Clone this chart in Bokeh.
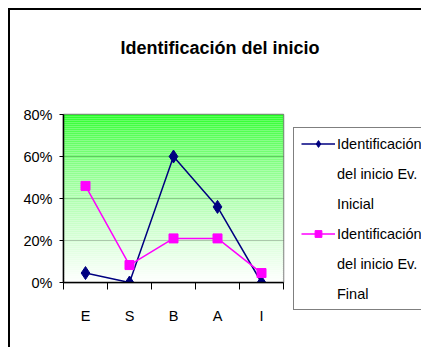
from bokeh.plotting import figure
from bokeh.models import Range1d, FixedTicker, Legend, LegendItem, BoxAnnotation, Title
from bokeh.embed import file_html
from bokeh.resources import INLINE

# ---- data ----
categories = ["E", "S", "B", "A", "I"]
inicial = [0.045, 0.0, 0.60, 0.36, 0.0]
final = [0.46, 0.083, 0.21, 0.21, 0.045]
y_ticks = [0.0, 0.2, 0.4, 0.6, 0.8]
y_tick_labels = ["0%", "20%", "40%", "60%", "80%"]
legend_lines_inicial = ["Identificación", "del inicio Ev.", "Inicial"]
legend_lines_final = ["Identificación", "del inicio Ev.", "Final"]
title_text = "Identificación del inicio"

FONT = "Liberation Sans"
x_pos = [i + 0.5 for i in range(len(categories))]
boundaries = list(range(len(categories) + 1))

p = figure(frame_width=220, frame_height=168,
           min_border_left=53, min_border_right=138,
           min_border_top=104, min_border_bottom=65,
           x_range=Range1d(0, len(categories)), y_range=Range1d(y_ticks[0], y_ticks[-1]),
           output_backend="svg", toolbar_location=None)
p.styles = {"border-left": "2px solid black", "border-top": "2px solid black",
            "margin-left": "8px", "margin-top": "8px"}
p.background_fill_color = "white"
p.border_fill_color = "white"
p.outline_line_color = "#808080"
p.outline_line_width = 1.5

# title (spacer keeps it high above the frame)
p.title = None
spacer = Title(text=" ", text_font_size="1px", standoff=29)
p.add_layout(spacer, "above")
main_title = Title(text=title_text, text_font=FONT, text_font_size="18px",
                   text_font_style="bold", text_color="black",
                   align="left", offset=57, standoff=49)
p.add_layout(main_title, "above")

# gradient background (decoration)
n_bands = 84
y0, y1 = y_ticks[0], y_ticks[-1]
for k in range(n_bands):
    b = y0 + (y1 - y0) * k / n_bands
    t_ = y0 + (y1 - y0) * (k + 1) / n_bands
    frac_from_top = 1 - (k + 0.5) / n_bands
    v = frac_from_top ** 0.62
    r = int(26 + (255 - 26) * v)
    col = "#%02x%02x%02x" % (r, 255, r)
    p.add_layout(BoxAnnotation(bottom=b, top=t_, fill_color=col, fill_alpha=1,
                               line_color=None, level="underlay"))

# axes
p.xaxis.ticker = FixedTicker(ticks=x_pos, minor_ticks=boundaries)
p.xaxis.major_label_overrides = {x: c for x, c in zip(x_pos, categories)}
p.xaxis.major_tick_line_color = None
p.xaxis.major_tick_out = 0
p.xaxis.major_tick_in = 0
p.xaxis.minor_tick_line_color = "black"
p.xaxis.minor_tick_out = 7
p.xaxis.minor_tick_in = 0
p.xaxis.major_label_standoff = 18
p.xaxis.axis_line_color = "black"
p.xaxis.axis_line_width = 1.5

p.yaxis.ticker = FixedTicker(ticks=y_ticks)
p.yaxis.major_label_overrides = {v: s for v, s in zip(y_ticks, y_tick_labels)}
p.yaxis.major_tick_out = 4
p.yaxis.major_tick_in = 0
p.yaxis.minor_tick_line_color = None
p.yaxis.major_label_standoff = 7
p.yaxis.axis_line_color = "black"
p.yaxis.axis_line_width = 1.5

for ax in (p.xaxis, p.yaxis):
    ax.major_label_text_font = FONT
    ax.major_label_text_font_size = "14.5px"
    ax.major_label_text_color = "black"

p.xgrid.grid_line_color = None
p.ygrid.ticker = FixedTicker(ticks=y_ticks[1:-1])
p.ygrid.grid_line_color = "#222222"
p.ygrid.grid_line_width = 1

# series
l1 = p.line(x_pos, inicial, line_color="#000080", line_width=1.5)
m1 = p.scatter(x_pos, inicial, marker="diamond", size=13, color="#000080")
l2 = p.line(x_pos, final, line_color="#ff00ff", line_width=1.5)
m2 = p.scatter(x_pos, final, marker="square", size=9, color="#ff00ff")

items = []
for lines, rends in ((legend_lines_inicial, [l1, m1]), (legend_lines_final, [l2, m2])):
    items.append(LegendItem(label=lines[0], renderers=rends))
    for ln in lines[1:]:
        items.append(LegendItem(label=ln, renderers=[]))

legend = Legend(items=items, location=(10, -28))
legend.label_text_font = FONT
legend.label_text_font_size = "14.5px"
legend.label_text_color = "black"
legend.glyph_width = 34
legend.glyph_height = 17
legend.label_standoff = 2
legend.padding = 7
legend.spacing = 13
legend.margin = 0
legend.border_line_color = "black"
legend.border_line_width = 1
legend.background_fill_color = "white"
legend.background_fill_alpha = 1
p.add_layout(legend, "right")

open("out.html", "w").write(file_html(p, INLINE))
